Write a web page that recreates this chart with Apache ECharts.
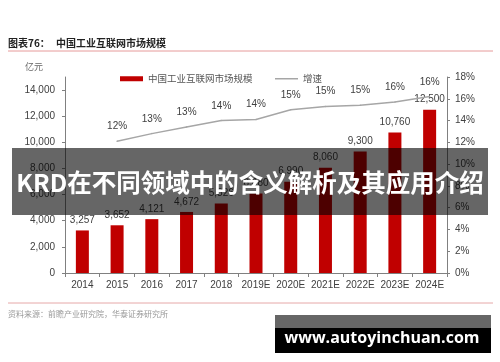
<!DOCTYPE html>
<html><head><meta charset="utf-8">
<script src="https://cdn.jsdelivr.net/npm/echarts@6/dist/echarts.min.js"></script>
<style>html,body{margin:0;padding:0;background:#fff}#c{width:500px;height:362px}</style>
</head><body><div id="c"></div>
<script>
var categories = ['2014','2015','2016','2017','2018','2019E','2020E','2021E','2022E','2023E','2024E'];
var marketSize = [3257, 3652, 4121, 4672, 5326, 6080, 6990, 8060, 9300, 10760, 12500];
var growth = [null, 12.1, 12.8, 13.4, 14.0, 14.1, 15.0, 15.3, 15.4, 15.7, 16.2];
var leftTicks = [0, 2000, 4000, 6000, 8000, 10000, 12000, 14000];
var rightTicks = [0, 2, 4, 6, 8, 10, 12, 14, 16, 18];
var seriesNames = ['中国工业互联网市场规模', '增速'];
var titleText = '图表76：';
var titleMain = '中国工业互联网市场规模';
var unitText = '亿元';
var sourceText = '资料来源：前瞻产业研究院，华泰证券研究所';
var bannerText = 'KRD在不同领域中的含义解析及其应用介绍';
var watermarkText = 'www.autoyinchuan.com';

var chart = echarts.init(document.getElementById('c'), null, {renderer:'canvas'});
var FF = '"Liberation Sans", Arial, "Noto Sans CJK SC", sans-serif';
var axisColor = '#808080';
var labelColor = '#404040';
var legendText = {fontSize: 9.5, color: '#555', fontFamily: '"Noto Sans CJK SC", sans-serif'};
chart.setOption({
  animation: false,
  backgroundColor: '#fff',
  textStyle: {fontFamily: FF},
  grid: {left: 65, right: 53, top: 77, bottom: 89},
  legend: [{
    left: 115, top: 69, itemWidth: 23, itemHeight: 5, itemGap: 5,
    textStyle: legendText,
    data: [{name: seriesNames[0], icon: 'rect'}]
  }, {
    left: 270, top: 69, itemWidth: 23, itemHeight: 1.5, itemGap: 5,
    textStyle: legendText,
    data: [{name: seriesNames[1], icon: 'rect', itemStyle: {color: '#a6a6a6'}}]
  }],
  xAxis: {
    type: 'category', data: categories,
    axisLine: {lineStyle: {color: axisColor}},
    axisTick: {show: true, lineStyle: {color: axisColor}, length: 4},
    axisLabel: {color: labelColor, fontSize: 10, margin: 7, interval: 0}
  },
  yAxis: [{
    type: 'value', min: 0, max: 15000, interval: 2000,
    splitLine: {show: false},
    axisLine: {show: true, lineStyle: {color: axisColor}},
    axisTick: {show: true, length: 3, lineStyle: {color: axisColor}, customValues: leftTicks},
    axisLabel: {color: labelColor, fontSize: 10, margin: 10, customValues: leftTicks,
      formatter: function(v){ return v.toLocaleString('en-US'); }}
  }, {
    type: 'value', min: 0, max: 18, interval: 2, position: 'right',
    splitLine: {show: false},
    axisLine: {show: true, lineStyle: {color: axisColor}},
    axisTick: {show: true, length: 3, lineStyle: {color: axisColor}, customValues: rightTicks},
    axisLabel: {color: labelColor, fontSize: 10, margin: 8, customValues: rightTicks,
      formatter: '{value}%'}
  }],
  series: [{
    name: seriesNames[0], type: 'bar', data: marketSize, barWidth: 13,
    itemStyle: {color: '#c00000'},
    label: {show: true, position: 'top', distance: 5, color: labelColor, fontSize: 10,
      formatter: function(p){ return p.value.toLocaleString('en-US'); }}
  }, {
    name: seriesNames[1], type: 'line', yAxisIndex: 1, data: growth,
    symbol: 'circle', symbolSize: 1.5, showSymbol: true, showAllSymbol: true,
    lineStyle: {color: '#a6a6a6', width: 1.5}, itemStyle: {color: '#a6a6a6'},
    label: {show: true, position: 'top', distance: 9, color: labelColor, fontSize: 10,
      formatter: function(p){ return Math.round(p.value) + '%'; }}
  }],
  graphic: [
    {type: 'text', left: 8, top: 38, style: {text: titleText, font: 'bold 10px "Noto Sans CJK SC", sans-serif', fill: '#222'}},
    {type: 'text', left: 56, top: 38, style: {text: titleMain, font: 'bold 10px "Noto Sans CJK SC", sans-serif', fill: '#222'}},
    {type: 'line', shape: {x1: 8, y1: 51, x2: 493, y2: 51}, style: {stroke: '#e69a9a', lineWidth: 1}},
    {type: 'text', left: 25, top: 62, style: {text: unitText, font: '9px "Noto Sans CJK SC", sans-serif', fill: '#666'}},
    {type: 'line', shape: {x1: 8, y1: 303, x2: 493, y2: 303}, style: {stroke: '#e6a8a8', lineWidth: 1}},
    {type: 'text', left: 8, top: 310, style: {text: sourceText, font: '8px "Noto Sans CJK SC", sans-serif', fill: '#999'}},
    {type: 'rect', z: 100, shape: {x: 12, y: 148, width: 476, height: 67}, style: {fill: 'rgba(0,0,0,0.6)'}},
    {type: 'text', z: 101, x: 250, y: 183, style: {text: bannerText, font: 'bold 24.5px "Noto Sans CJK SC", sans-serif', fill: '#fff', align: 'center', verticalAlign: 'middle'}},
    {type: 'rect', z: 100, shape: {x: 275, y: 315, width: 216, height: 13}, style: {fill: '#666'}},
    {type: 'rect', z: 100, shape: {x: 275, y: 328, width: 216, height: 25}, style: {fill: '#000'}},
    {type: 'text', z: 101, x: 382, y: 338, style: {text: watermarkText, font: 'bold 16px "Open Sans", sans-serif', fill: '#fff', align: 'center', verticalAlign: 'middle'}}
  ]
});
</script></body></html>
